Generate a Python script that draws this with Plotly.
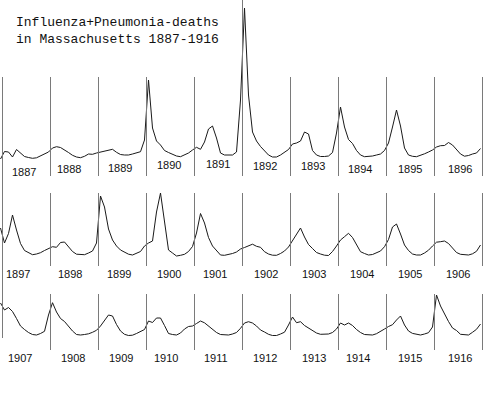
import numpy as np
import plotly.graph_objects as go

# Monthly influenza+pneumonia deaths (relative units).
# Each row series starts with December of the year before its first year.
years_row1 = [1887, 1888, 1889, 1890, 1891, 1892, 1893, 1894, 1895, 1896]
years_row2 = [1897, 1898, 1899, 1900, 1901, 1902, 1903, 1904, 1905, 1906]
years_row3 = [1907, 1908, 1909, 1910, 1911, 1912, 1913, 1914, 1915, 1916]

deaths_row1 = [
    180,
    255, 250, 200, 275, 235, 205, 195, 187, 192, 210, 235, 250,
    290, 303, 295, 272, 245, 217, 200, 193, 207, 230, 227, 240,
    250, 260, 272, 277, 247, 225, 220, 220, 230, 240, 253, 370,
    970, 490, 360, 320, 265, 245, 225, 210, 203, 220, 240, 270,
    297, 277, 350, 480, 510, 390, 240, 220, 220, 220, 250, 770,
    1690, 820, 450, 360, 305, 260, 220, 200, 200, 220, 245, 275,
    330, 340, 360, 450, 430, 265, 220, 205, 205, 210, 245, 440,
    700, 500, 375, 335, 265, 220, 203, 205, 210, 220, 230, 265,
    340, 500, 670, 510, 290, 220, 207, 203, 215, 232, 250, 270,
    300, 313, 315, 345, 320, 270, 230, 208, 215, 230, 240, 285,
]

deaths_row2 = [
    470,
    320, 415, 600, 450, 315, 245, 220, 203, 210, 223, 245, 265,
    283, 277, 325, 330, 285, 235, 208, 202, 203, 220, 240, 320,
    790, 680, 460, 350, 290, 250, 230, 208, 200, 215, 235, 290,
    320, 340, 630, 820, 530, 250, 220, 190, 197, 207, 235, 285,
    420, 615, 520, 375, 290, 240, 200, 197, 205, 215, 230, 260,
    275, 290, 308, 287, 277, 233, 210, 198, 197, 215, 240, 280,
    340, 410, 470, 380, 305, 265, 225, 210, 198, 195, 235, 290,
    350, 383, 417, 375, 300, 233, 215, 200, 205, 220, 240, 283,
    355, 480, 510, 410, 300, 245, 210, 200, 200, 220, 248, 290,
    328, 333, 340, 315, 275, 225, 207, 200, 200, 212, 237, 300,
]

deaths_row3 = [
    520,
    450, 475, 435, 365, 290, 255, 225, 205, 200, 215, 237, 400,
    523, 430, 365, 335, 285, 240, 205, 200, 205, 212, 227, 247,
    290, 345, 400, 390, 305, 240, 207, 195, 198, 215, 233, 255,
    340, 325, 370, 370, 295, 215, 205, 200, 220, 260, 285, 290,
    315, 340, 322, 290, 255, 225, 205, 200, 200, 210, 225, 267,
    320, 333, 320, 290, 250, 230, 207, 195, 195, 210, 228, 300,
    380, 323, 333, 295, 268, 248, 220, 207, 208, 210, 225, 260,
    320, 300, 320, 295, 255, 225, 205, 200, 200, 213, 233, 260,
    285, 303, 350, 390, 300, 240, 216, 207, 200, 210, 223, 280,
    600, 490, 410, 335, 270, 245, 207, 200, 200, 227, 257, 310,
]

title_lines = ["Influenza+Pneumonia-deaths", "in Massachusetts 1887-1916"]

W, H = 500, 400
def py(px):  # pixel row -> paper fraction
    return 1 - px / H

rows = [
    dict(years=years_row1, vals=deaths_row1, dom=(0, 182), rng=(-50, 1770),
         line=(77, 176), tall={1892: (0, 176)}, lab_y=[172, 169, 168, 164.5, 164, 166, 166, 169, 169, 169],
         lab_x=[24, 68.5, 120, 168.5, 217.5, 265, 312.5, 360, 409.5, 459.5]),
    dict(years=years_row2, vals=deaths_row2, dom=(186, 270), rng=(50, 890),
         line=(193, 266), tall={}, lab_y=[273.5] * 10,
         lab_x=[17.5, 70, 118.5, 168.5, 215, 266, 314, 361.5, 410, 457.5]),
    dict(years=years_row3, vals=deaths_row3, dom=(288, 352), rng=(30, 670),
         line=(294, 350), tall={}, lab_y=[357.5] * 10,
         lab_x=[20, 72.5, 120.5, 166, 216, 264.5, 314, 357.5, 410, 459.5]),
]

fig = go.Figure()
shapes, annotations = [], []
layout_axes = {}
for i, r in enumerate(rows, start=1):
    y0 = r["years"][0]
    n = len(r["vals"])
    x = y0 - 1 / 24 + np.arange(n) / 12.0
    xa = "x" if i == 1 else f"x{i}"
    ya = "y" if i == 1 else f"y{i}"
    fig.add_trace(go.Scatter(x=x, y=r["vals"], mode="lines", xaxis=xa, yaxis=ya,
                             line=dict(color="#1a1a1a", width=1), hoverinfo="skip"))
    xkey = "xaxis" if i == 1 else f"xaxis{i}"
    ykey = "yaxis" if i == 1 else f"yaxis{i}"
    layout_axes[xkey] = dict(domain=[0, 1], range=[y0 - 2.5 / 48, y0 + 497.5 / 48],
                             visible=False, anchor=ya, fixedrange=True)
    layout_axes[ykey] = dict(domain=[py(r["dom"][1]), py(r["dom"][0])], range=list(r["rng"]),
                             visible=False, anchor=xa, fixedrange=True)
    for j, yr in enumerate(r["years"] + [r["years"][-1] + 1]):
        top, bot = r["tall"].get(yr, r["line"])
        if i == 1 and j == 0:
            top, bot = 77, 338
        if i > 1 and j == 0:
            continue
        shapes.append(dict(type="line", xref=xa, yref="paper", x0=yr, x1=yr,
                           y0=py(bot), y1=py(top), line=dict(color="#7a7a7a", width=1)))
    for j, yr in enumerate(r["years"]):
        annotations.append(dict(text=str(yr), xref="paper", yref="paper",
                                x=r["lab_x"][j] / W, y=py(r["lab_y"][j]),
                                xanchor="center", yanchor="middle", showarrow=False,
                                font=dict(family="Liberation Sans, Arial", size=11, color="#111")))

annotations.append(dict(text="<br>".join(title_lines), xref="paper", yref="paper",
                        x=15 / W, y=py(31), xanchor="left", yanchor="middle", align="left",
                        showarrow=False, borderpad=0,
                        font=dict(family="Liberation Mono, Courier New, monospace", size=13, color="#111")))

fig.update_layout(width=W, height=H, margin=dict(l=0, r=0, t=0, b=0),
                  paper_bgcolor="white", plot_bgcolor="rgba(0,0,0,0)",
                  showlegend=False, shapes=shapes, annotations=annotations, **layout_axes)
fig.write_html("out.html", config={"displayModeBar": False},
               post_script="document.body.style.margin='0';document.body.style.padding='0';")
